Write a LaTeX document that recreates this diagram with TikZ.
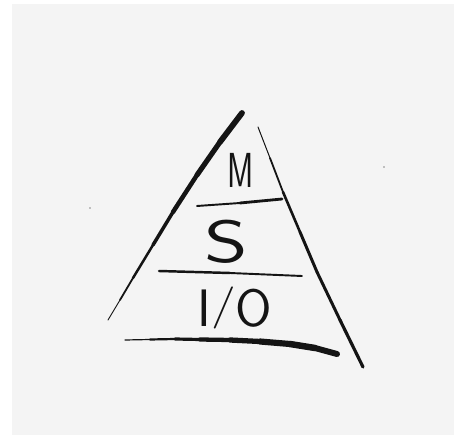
\documentclass[tikz,border=0pt]{standalone}
\usepackage{graphicx}
\definecolor{paper}{HTML}{F4F4F4}
\definecolor{ink}{HTML}{141414}
\begin{document}
\begin{tikzpicture}[x=0.02cm, y=-0.02cm,
    pen/.style={ink, line cap=round, line join=round},
    letter/.style={ink, inner sep=0pt, anchor=base}]
    \useasboundingbox (0,0) rectangle (454,436);
    \fill[white] (0,0) rectangle (454,436);
    \fill[paper] (12,4) rectangle (454,435);
    % left side, heavy at the top
    \foreach \ax/\ay/\bx/\by/\w in {242/113/220/142/5.8, 220/142/197/175/5.2,
        197/175/173/212/4.5, 173/212/153/245/3.5, 153/245/133/278/2.5,
        133/278/120/300/1.8, 120/300/108/320/0.9}
        \draw[pen, line width=\w*0.567pt] (\ax,\ay) -- (\bx,\by);
    % right side
    \foreach \ax/\ay/\bx/\by/\w in {258/127/270/158/1.0, 270/158/283/192/1.8,
        283/192/300/232/2.6, 300/232/317/272/3.0, 317/272/340/320/3.0,
        340/320/363/367/3.2}
        \draw[pen, line width=\w*0.567pt] (\ax,\ay) -- (\bx,\by);
    % base
    \foreach \ax/\ay/\bx/\by/\w in {125/340/150/339.5/1.2, 150/339.5/175/339/2.2,
        175/339/200/339.5/3.2, 200/339.5/230/340/4.3, 230/340/260/341.5/5.3,
        260/341.5/290/344/6.2, 290/344/315/348/6.5, 315/348/337/354/6}
        \draw[pen, line width=\w*0.567pt] (\ax,\ay) -- (\bx,\by);
    % layer lines
    \draw[pen, line width=1.1pt] (197,206) -- (240,203);
    \draw[pen, line width=1.6pt] (240,203) -- (282,199);
    \draw[pen, line width=1.4pt] (159,271) -- (230,273);
    \draw[pen, line width=1.1pt] (230,273) -- (302,276);
    % specks
    \fill[ink!50] (90,208) circle (0.8);
    \fill[ink!50] (384,167) circle (0.8);
    % labels
    \node[letter, font=\sffamily\fontsize{28}{28}\selectfont, xscale=0.65] (m) at (241,188) {M};
    \node[letter, font=\sffamily\fontsize{34}{34}\selectfont, xscale=1.4] (s) at (226,262) {S};
    \node[letter, font=\sffamily\fontsize{30}{30}\selectfont] (io) at (235,326)
        {I\raisebox{0.15em}{\scalebox{1}[0.8]{/}}O};
\end{tikzpicture}
\end{document}
